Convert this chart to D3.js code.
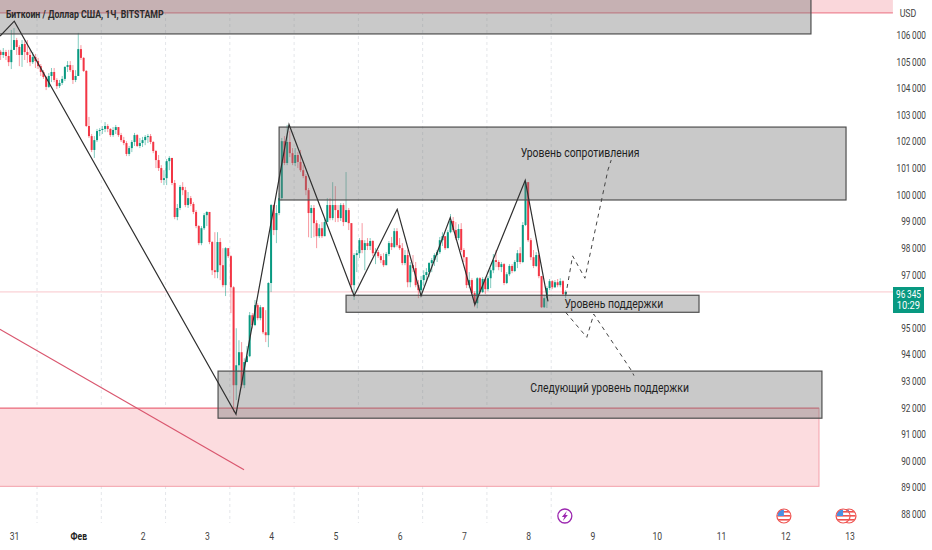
<!DOCTYPE html>
<html><head><meta charset="utf-8">
<script src="https://cdn.jsdelivr.net/npm/d3@7/dist/d3.min.js"></script>
<style>html,body{margin:0;padding:0;background:#fff;overflow:hidden}svg{display:block}</style>
</head><body><svg id="c" width="932" height="550"></svg>
<script>
const firstHour=-5, firstOpen=105370;
const closes=[105250,105360,105210,104980,105440,105810,105550,105250,105660,105360,105250,104980,105170,105020,104830,104610,104420,104050,104460,104610,104310,104080,104200,104350,104800,104870,104680,104310,104460,105470,105140,104650,102580,102200,101680,102050,102390,102430,102470,102580,102470,102240,102430,102540,102240,102050,101940,101530,101750,101980,102240,101830,101940,102050,102170,102200,101980,101640,101300,101000,100550,100620,101260,101380,100440,99160,99500,100290,100170,99610,99870,99650,99350,98820,98180,98740,99230,99350,98220,97160,97090,98220,97350,96600,97990,97690,96520,92840,93590,94080,92840,93710,93930,95470,95100,95850,95360,95770,94830,94720,96680,99610,98670,99310,99870,102010,101190,101980,101560,101190,101490,101230,100920,100700,100170,99310,99500,98930,98440,98740,98440,98970,99610,99120,99610,99420,99120,99610,98970,99420,98930,96600,97730,97800,98290,97920,98180,98070,98260,97800,97840,97690,97540,97350,97770,98180,98030,98630,98100,97990,97430,97730,96710,97350,97240,96600,96410,96790,96980,97090,97430,97540,97730,97840,98290,98440,97990,98590,99010,98670,98370,98710,97920,97650,96600,96790,96300,95920,96860,96340,96830,96450,96860,97160,97540,97470,97280,97390,96680,97010,97320,97130,97470,97800,97470,98860,100470,98290,97650,97320,97730,96940,95770,96110,96490,96750,96520,96710,96600,96750,96260,96345];
const highs=[105440,105510,105440,105440,106190,106260,105890,105620,105810,105810,105810,105440,105360,105290,105140,104910,104680,104460,104570,104760,104760,104380,104310,104460,104830,105020,105020,104870,104680,106080,105620,105170,104680,102920,102280,102200,102470,102500,102580,102730,102650,102500,102540,102620,102540,102320,102170,102010,101830,102050,102320,102280,102130,102170,102240,102280,102280,102010,101680,101490,101110,100920,101340,101450,101300,100550,99650,100360,100470,100290,100100,99950,99720,99420,98860,98820,99310,99380,99350,98260,98590,98590,98370,97990,98030,97990,97730,96560,94980,94530,94460,93850,94310,95590,95550,96040,95920,95850,95730,95660,96710,99650,99610,99610,100060,102130,102200,102620,102390,101750,101750,101600,101680,101110,100770,100250,99610,99610,99040,98890,98970,99120,99870,99870,100470,100320,99610,99680,99680,100850,99500,98930,97800,97920,98370,98930,98290,98370,98370,98290,97990,97920,97770,97800,97840,98260,98410,98740,98740,98370,98180,97920,97920,97470,97730,97470,96790,96940,97160,97240,97470,97620,97800,97920,98410,98590,98440,98670,99270,99160,98970,98890,98930,97990,97620,97090,96860,96370,96900,96900,96900,96900,96940,97240,97770,97920,97540,97470,97430,97090,97390,97390,97540,97920,98030,98970,100550,100430,98370,97920,97840,97800,96940,96190,96560,96830,96790,96790,96830,96860,96790,96410];
const lows=[105060,105140,105060,104830,104720,105440,105250,104830,104800,105060,104950,104830,104910,104760,104720,104460,104350,103930,104010,104230,104230,103970,104010,104120,104270,104610,104610,104160,104230,104610,105060,104610,102540,102130,101600,101380,101980,102200,102280,102350,102350,102170,102170,102280,102170,101980,101860,101450,101450,101600,101830,101790,101750,101790,101860,101940,101900,101560,101000,100890,100440,100360,100360,100920,100360,99080,99040,99420,99980,99530,99500,99570,99270,98740,98100,98100,98670,98820,98140,96980,96860,96860,96790,96520,96190,97620,95550,91830,92280,93330,92730,92730,93850,93890,94980,95060,95280,95280,94760,94460,94270,96340,98480,98180,99230,99790,101110,101110,101410,101110,101070,101000,100850,100620,99980,98400,98370,98400,97990,98370,98370,98440,99040,99040,99040,98970,98970,99010,98820,98970,98670,96340,96040,97090,97620,97800,97160,97920,97920,97690,97390,97620,97430,97280,97390,97690,97920,97990,98030,97920,97350,97350,96520,96520,97090,96520,96110,96190,96560,96710,96900,97090,97320,97470,97770,98070,97920,97990,98550,98590,98290,98290,97840,97470,96490,96490,96220,95770,95730,96260,96300,96260,96370,96490,97050,97280,97160,97090,96600,96640,96940,97050,97090,97240,97390,97430,98820,98220,97540,97240,97280,96860,95740,95740,95740,96410,96450,96490,96520,96520,96190,96110];

const zoneTop=[[-6,107500,297.6,106040]];
const zones=[[99,102540,310.7,99800],[124,96220,255.8,95580],[76.2,93370,301.7,91600]];
const pinkTop=[-6,107500,328.2,106830];
const pinkLow=[-6,91975,300.6,89040];
const zigHours=[-5.2,0.1,82.9,102.7,127,143.1,152,162.9,172.1,190.9,199.4];
const zigPrices=[105960,106520,91750,102640,96200,99450,96200,99140,95870,100540,95990];
const dashA=[[206,96200],[208.6,97700],[213.2,96860],[221.8,100930],[223,101300]];
const dashB=[[206,95580],[213.9,94640],[216.5,95510],[230.7,93370],[231.5,93200]];
const redLine=[[-5.3,94940],[85.9,89660]];
const notes=["Уровень сопротивления","Уровень поддержки","Следующий уровень поддержки"];
const noteHours=[211.4,224,222.4];
const notePrices=[101413,95735,92577];
const lastPrice=96345;
const dayLabels=["31","Фев","2","3","4","5","6","7","8","9","10","11","12","13"];
const priceTicks=[88000,89000,90000,91000,92000,93000,94000,95000,97000,98000,99000,100000,101000,102000,103000,104000,105000,106000];
const gridDays=[0,1,2,3,4,5,6,7,8];
const usFlags=[287.5,309.6,311.8];
const boltHour=205.7;

const x=d3.scaleLinear().domain([0,24]).range([14,78.27]);
const y=d3.scaleLinear().domain([88000,106000]).range([514,35]);
const svg=d3.select("#c");
const UP="#089981",DN="#f23645",FONT="Roboto,sans-serif";
// the reference uses a condensed face: squeeze the real text horizontally
const squeeze=(sel,k)=>sel.each(function(){const w=this.getComputedTextLength();d3.select(this).attr("textLength",w*k).attr("lengthAdjust","spacingAndGlyphs")});

svg.append("g").selectAll("line").data(gridDays).join("line")
 .attr("x1",d=>x(8.6+24*d)).attr("x2",d=>x(8.6+24*d)).attr("y1",0).attr("y2",523)
 .attr("stroke","#e4e6ea").attr("stroke-width",1).attr("stroke-dasharray","3 3");

const rectOf=(g,z)=>g.append("rect").attr("x",x(z[0])).attr("y",y(z[1])).attr("width",x(z[2])-x(z[0])).attr("height",y(z[3])-y(z[1]));
rectOf(svg,pinkTop).attr("fill","#fad7db");
svg.append("line").attr("x1",x(pinkTop[0])).attr("x2",x(pinkTop[2])).attr("y1",y(pinkTop[3])).attr("y2",y(pinkTop[3])).attr("stroke","#ee8593").attr("stroke-width",1.2);
rectOf(svg,pinkLow).attr("fill","#fcdcdf").attr("stroke","#f3a0aa").attr("stroke-width",1);
svg.append("line").attr("x1",x(pinkLow[0])).attr("x2",x(pinkLow[2])).attr("y1",y(pinkLow[1])).attr("y2",y(pinkLow[1])).attr("stroke","#ee8593").attr("stroke-width",1.4);

svg.append("line").attr("x1",0).attr("x2",893).attr("y1",y(lastPrice)).attr("y2",y(lastPrice)).attr("stroke","#f9c6cb").attr("stroke-width",1);

const candles=closes.map((c,i)=>{const o=i?closes[i-1]:firstOpen;return {h:firstHour+i,o,c,hi:Math.max(highs[i],o,c),lo:Math.min(lows[i],o,c)}});
const cg=svg.append("g");
cg.selectAll("line").data(candles).join("line")
 .attr("x1",d=>x(d.h)).attr("x2",d=>x(d.h)).attr("y1",d=>y(d.hi)).attr("y2",d=>y(d.lo))
 .attr("stroke",d=>d.c>=d.o?UP:DN).attr("stroke-width",1).attr("stroke-opacity",.5);
cg.selectAll("rect").data(candles).join("rect")
 .attr("x",d=>x(d.h)-1).attr("width",2)
 .attr("y",d=>y(Math.max(d.o,d.c))).attr("height",d=>Math.max(1,Math.abs(y(d.o)-y(d.c))))
 .attr("fill",d=>d.c>=d.o?UP:DN);

[...zoneTop,...zones].forEach(z=>rectOf(svg,z).attr("fill","rgba(120,120,120,.4)").attr("stroke","#4f4f4f").attr("stroke-width",1.2));

const line=d3.line().x(d=>x(d[0])).y(d=>y(d[1]));
svg.append("path").attr("d",line(redLine)).attr("fill","none").attr("stroke","#d9566e").attr("stroke-width",1.2);
svg.append("path").attr("d",line(zigHours.map((h,i)=>[h,zigPrices[i]]))).attr("fill","none").attr("stroke","#2f2f2f").attr("stroke-width",1.2);
[dashA,dashB].forEach(p=>svg.append("path").attr("d",line(p)).attr("fill","none").attr("stroke","#444").attr("stroke-width",1).attr("stroke-dasharray","4 4"));

const nt=svg.append("g").selectAll("text").data(notes).join("text")
 .attr("x",(d,i)=>x(noteHours[i])).attr("y",(d,i)=>y(notePrices[i])).attr("text-anchor","middle")
 .attr("font-family",FONT).attr("font-size",13).attr("fill","#1f1f1f").text(d=>d);
squeeze(nt,0.8);

squeeze(svg.append("text").attr("x",6).attr("y",18).attr("font-family",FONT).attr("font-size",11.5).attr("font-weight",700).attr("fill","#2b2b2b").text("Биткоин / Доллар США, 1Ч, BITSTAMP"),0.76);

const ax=d3.axisRight(y).tickValues(priceTicks).tickSize(0).tickPadding(0).tickFormat(d=>d3.format(",")(d).replace(",","\u2009"));
const ga=svg.append("g").attr("transform","translate(926,0)").call(ax);
ga.select(".domain").remove();
ga.selectAll("text").attr("text-anchor","end").attr("x",0).attr("font-family",FONT).attr("font-size",11).attr("fill","#444").attr("transform","scale(0.75,1)");

const bx=d3.axisBottom(x).tickValues(dayLabels.map((d,i)=>i*24)).tickSize(0).tickPadding(0).tickFormat((d,i)=>dayLabels[i]);
const gb=svg.append("g").attr("transform","translate(0,532)").call(bx);
gb.select(".domain").remove();
gb.selectAll("text").attr("font-family",FONT).attr("font-size",11).attr("fill","#444");
gb.selectAll("text").filter((d,i)=>i===1).attr("font-weight",700).attr("fill","#222");
squeeze(gb.selectAll("text"),0.78);

squeeze(svg.append("text").attr("x",908).attr("y",17).attr("text-anchor","middle").attr("font-family",FONT).attr("font-size",11).attr("fill","#444").text("USD"),0.8);

svg.append("rect").attr("x",893).attr("y",287).attr("width",31).attr("height",26).attr("fill",UP);
squeeze(svg.append("text").attr("x",908.5).attr("y",297.5).attr("text-anchor","middle").attr("font-family",FONT).attr("font-size",11).attr("fill","#fff").text(d3.format(",")(lastPrice).replace(",","\u2009")),0.75);
squeeze(svg.append("text").attr("x",908.5).attr("y",309).attr("text-anchor","middle").attr("font-family",FONT).attr("font-size",11).attr("fill","#fff").text("10:29"),0.85);

const bolt=svg.append("g").attr("transform",`translate(${x(boltHour)},516)`);
bolt.append("circle").attr("r",7).attr("fill","#fff").attr("stroke","#9c27b0").attr("stroke-width",1.3);
bolt.append("path").attr("d","M2,-5 L-3,1 L-0.5,1 L-2,5 L3,-1 L0.5,-1 Z").attr("fill","#9c27b0");

usFlags.slice().reverse().forEach(h=>{
 const g=svg.append("g").attr("transform",`translate(${x(h)},516)`);
 const id="f"+Math.round(h*10);
 g.append("clipPath").attr("id",id).append("circle").attr("r",6.6);
 const b=g.append("g").attr("clip-path",`url(#${id})`);
 b.append("rect").attr("x",-7).attr("y",-7).attr("width",14).attr("height",14).attr("fill","#fff");
 [-5,-1,3].forEach(s=>b.append("rect").attr("x",-7).attr("y",s).attr("width",14).attr("height",1.6).attr("fill","#ef5350"));
 b.append("rect").attr("x",-7).attr("y",-7).attr("width",7).attr("height",7).attr("fill","#4a90e2");
 g.append("circle").attr("r",7).attr("fill","none").attr("stroke","#ef5350").attr("stroke-width",1.2);
});
</script></body></html>
